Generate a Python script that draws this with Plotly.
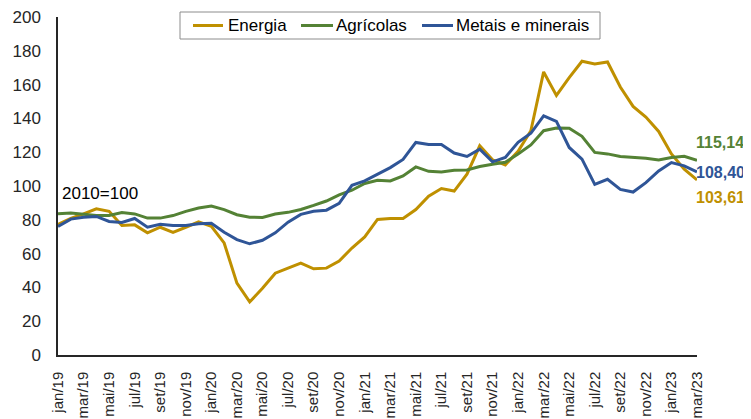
import plotly.graph_objects as go

months = ["jan", "fev", "mar", "abr", "mai", "jun", "jul", "ago", "set", "out", "nov", "dez"]
categories = [f"{m}/{y}" for y in ["19", "20", "21", "22", "23"] for m in months][:51]

energia = [77.2, 80.8, 83.5, 86.5, 85.0, 76.6, 77.0, 72.3, 75.6, 72.6, 75.6, 78.8,
           76.2, 66.3, 42.5, 31.4, 39.5, 48.4, 51.4, 54.4, 51.0, 51.4, 55.6, 63.3,
           69.9, 80.2, 80.8, 80.8, 86.1, 94.0, 98.5, 97.0, 107.0, 123.8, 115.5, 112.5,
           120.5, 132.7, 167.5, 153.6, 164.1, 173.8, 172.2, 173.4, 158.6, 147.1, 140.8, 132.3,
           119.0, 110.0, 103.61]
agricolas = [83.6, 84.0, 83.3, 82.6, 82.5, 84.3, 83.5, 81.0, 81.0, 82.5, 85.0, 87.0,
             88.2, 86.0, 83.0, 81.5, 81.4, 83.4, 84.4, 86.1, 88.5, 91.1, 94.7, 97.5,
             101.5, 103.4, 103.0, 106.0, 111.3, 108.7, 108.3, 109.3, 109.5, 111.5, 112.9, 114.0,
             119.0, 124.3, 132.7, 134.3, 134.2, 129.4, 119.9, 119.0, 117.5, 117.0, 116.4, 115.4,
             116.8, 117.6, 115.14]
metais = [76.0, 80.4, 81.5, 82.0, 79.0, 78.4, 80.8, 75.6, 77.4, 76.6, 76.6, 77.6,
          78.0, 72.6, 68.3, 65.8, 67.9, 72.3, 78.6, 83.2, 85.1, 85.7, 89.7, 100.4,
          103.0, 107.0, 110.9, 115.7, 125.8, 124.6, 124.6, 119.5, 117.5, 121.8, 114.3, 116.9,
          125.8, 131.2, 141.5, 138.2, 122.8, 115.9, 101.0, 104.0, 98.0, 96.4, 102.0, 108.9,
          113.9, 111.9, 108.40]

series_names = ["Energia", "Agrícolas", "Metais e minerais"]
colors = ["#BF9000", "#548235", "#2F5597"]
end_labels = ["103,61", "115,14", "108,40"]
end_label_y = [93.3, 126.0, 108.2]

tick_idx = list(range(0, 51, 2))
tick_text = [categories[i] for i in tick_idx]

FONT = "Liberation Sans, Arial, sans-serif"
x = list(range(len(categories)))

# the page body adds an 8px offset; figure sized to fit the 751x419 window
W, H = 743, 411
ML, MR, MT, MB = 50, 54, 9, 64
PW = W - ML - MR
PH = H - MT - MB


def px_x(p):  # page pixel -> paper x
    return (p - 8 - ML) / PW


def px_y(p):  # page pixel -> paper y
    return (H - MB + 8 - p) / PH


fig = go.Figure()
for name, vals, col in zip(series_names, [energia, agricolas, metais], colors):
    fig.add_trace(go.Scatter(x=x, y=vals, mode="lines", name=name,
                             line=dict(color=col, width=3), showlegend=False))

for lab, yy, col in zip(end_labels, end_label_y, colors):
    fig.add_annotation(x=50, y=yy, xref="x", yref="y", text=f"<b>{lab}</b>",
                       showarrow=False, xanchor="left", yanchor="middle", xshift=-3,
                       font=dict(family=FONT, size=16, color=col))

fig.add_annotation(x=0, y=100, xref="x", yref="y", text="2010=100", showarrow=False,
                   xanchor="left", yanchor="middle", xshift=2, yshift=-7,
                   font=dict(family=FONT, size=17, color="#000000"))

# legend box drawn to match the reference layout
fig.add_shape(type="rect", xref="paper", yref="paper",
              x0=px_x(180), x1=px_x(600), y0=px_y(39), y1=px_y(12),
              line=dict(color="#8c8c8c", width=1), fillcolor="white", layer="above")
leg_line = [(193, 223), (301, 333), (422, 453)]
leg_text_x = [228, 336, 456]
ly = px_y(25.5)
for name, col, (a, b), tx in zip(series_names, colors, leg_line, leg_text_x):
    fig.add_shape(type="line", xref="paper", yref="paper", x0=px_x(a), x1=px_x(b),
                  y0=ly, y1=ly, line=dict(color=col, width=3), layer="above")
    fig.add_annotation(x=px_x(tx), y=ly, xref="paper", yref="paper", text=name,
                       showarrow=False, xanchor="left", yanchor="middle",
                       borderpad=0, xshift=-1,
                       font=dict(family=FONT, size=17, color="#000000"))

fig.update_layout(
    width=W, height=H, autosize=False,
    margin=dict(l=ML, r=MR, t=MT, b=MB, pad=0),
    paper_bgcolor="white", plot_bgcolor="white",
    font=dict(family=FONT, size=17, color="#262626"),
    showlegend=False,
)
fig.update_xaxes(range=[0, 50], tickmode="array", tickvals=tick_idx, ticktext=tick_text,
                 tickangle=-90, showgrid=False, zeroline=False, showline=True,
                 linecolor="#262626", linewidth=1.5, ticks="", ticklabelstandoff=9,
                 automargin=False, ticklabeloverflow="allow",
                 tickfont=dict(family=FONT, size=15, color="#262626"))
fig.update_yaxes(range=[0, 200], dtick=20, showgrid=False, zeroline=False, showline=True,
                 linecolor="#262626", linewidth=1.5, ticks="", ticklabelstandoff=12,
                 automargin=False, ticklabeloverflow="allow",
                 tickfont=dict(family=FONT, size=17, color="#262626"))

fig.write_html("out.html")
